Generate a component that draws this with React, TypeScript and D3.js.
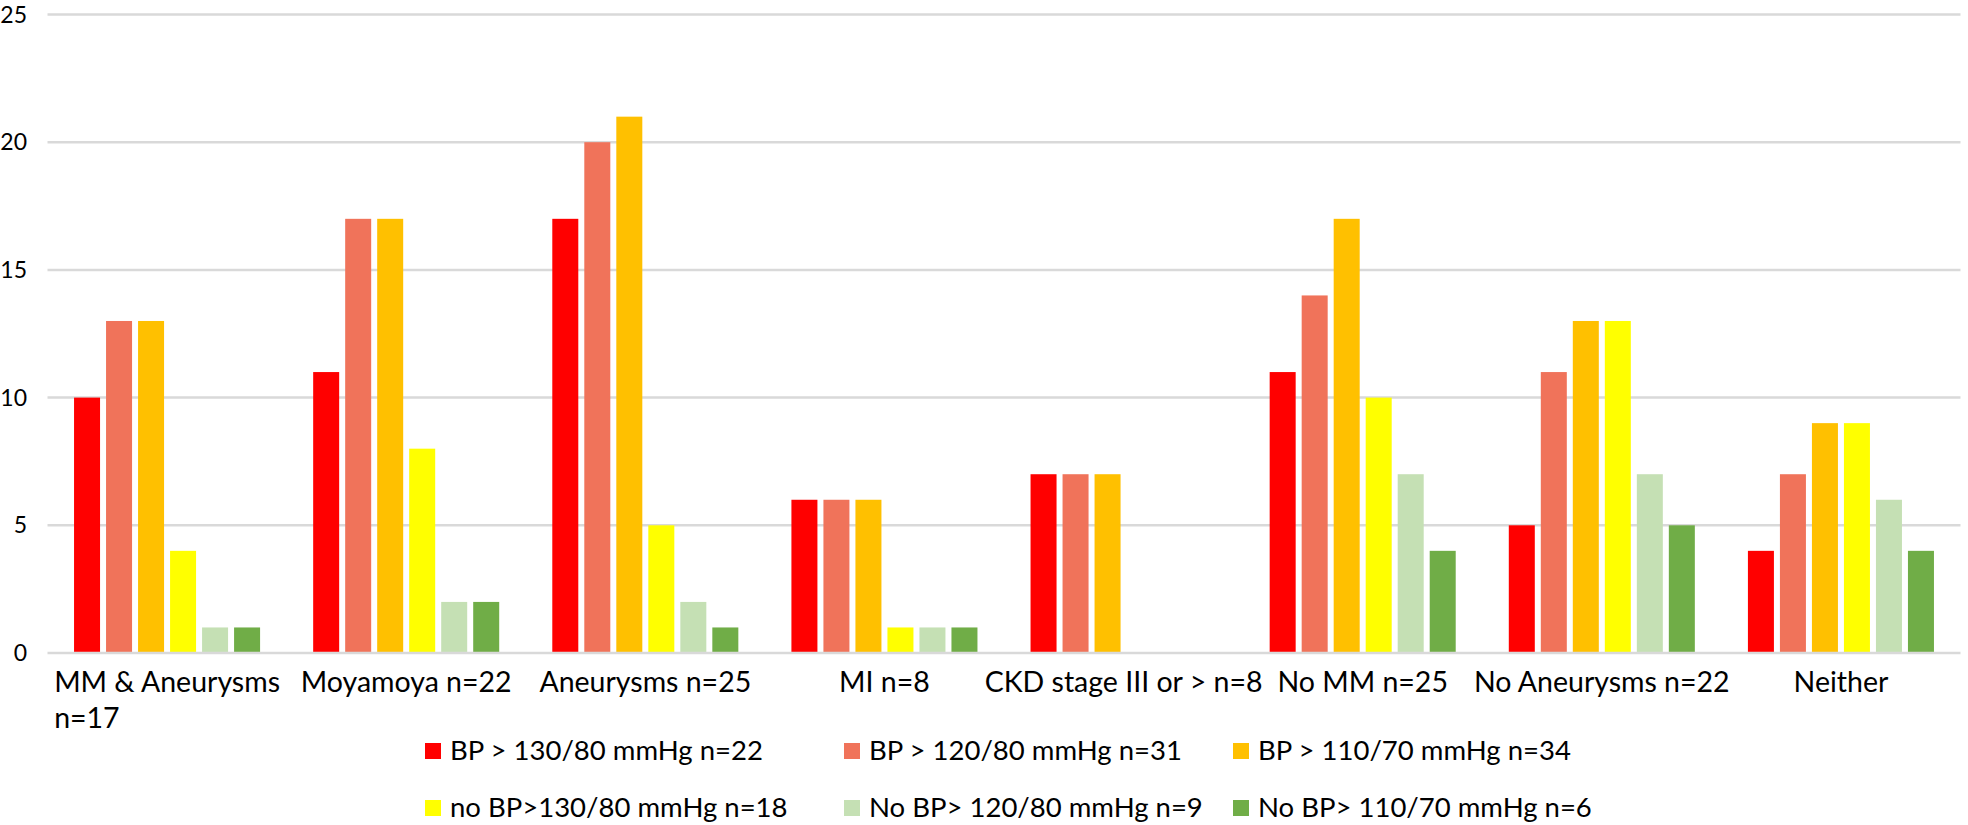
import React, { useEffect, useRef } from 'react';
import * as d3 from 'd3';

// ---- data ----
const categories = [
  'MM & Aneurysms\nn=17',
  'Moyamoya n=22',
  'Aneurysms n=25',
  'MI n=8',
  'CKD stage III or > n=8',
  'No MM n=25',
  'No Aneurysms n=22',
  'Neither',
];

const seriesNames = [
  'BP > 130/80 mmHg n=22',
  'BP > 120/80 mmHg n=31',
  'BP > 110/70 mmHg n=34',
  'no BP>130/80 mmHg n=18',
  'No BP> 120/80 mmHg n=9',
  'No BP> 110/70 mmHg n=6',
];

const seriesColors = ['#FF0000', '#F0735A', '#FFC000', '#FFFF00', '#C5E0B4', '#70AD47'];

const bp130 = [10, 11, 17, 6, 7, 11, 5, 4];
const bp120 = [13, 17, 20, 6, 7, 14, 11, 7];
const bp110 = [13, 17, 21, 6, 7, 17, 13, 9];
const noBp130 = [4, 8, 5, 1, 0, 10, 13, 9];
const noBp120 = [1, 2, 2, 1, 0, 7, 7, 6];
const noBp110 = [1, 2, 1, 1, 0, 4, 5, 4];
const seriesValues = [bp130, bp120, bp110, noBp130, noBp120, noBp110];

const yTicks = [0, 5, 10, 15, 20, 25];

// ---- layout ----
const W = 1968;
const H = 825;
const FONT = "Lato, 'Open Sans', sans-serif";
const PLOT_LEFT = 47.5;
const PLOT_RIGHT = 1960.5;
const Y0 = 653;
const Y25 = 14.5;
const CAT_FONT = 28.5;
const TICK_FONT = 23;
const LEG_FONT = 27.5;
const legendCols = [425, 844, 1233];
const legendRows = [760, 817];

export default function App() {
  const ref = useRef<SVGSVGElement>(null);

  useEffect(() => {
    const svg = d3.select(ref.current);
    svg.selectAll('*').remove();

    const x = d3.scaleBand<string>().domain(categories).range([PLOT_LEFT, PLOT_RIGHT]).padding(0);
    const y = d3.scaleLinear().domain([0, 25]).range([Y0, Y25]);
    const groupW = x.bandwidth() * 0.778;
    const xs = d3
      .scaleBand<number>()
      .domain(d3.range(seriesNames.length))
      .range([0, groupW])
      .paddingInner(0.1875);

    // gridlines (non-zero)
    svg
      .append('g')
      .selectAll('line')
      .data(yTicks.filter((t) => t !== 0))
      .join('line')
      .attr('x1', PLOT_LEFT)
      .attr('x2', PLOT_RIGHT)
      .attr('y1', (d) => y(d))
      .attr('y2', (d) => y(d))
      .attr('stroke', '#D9D9D9')
      .attr('stroke-width', 2.5);

    // y tick labels
    svg
      .append('g')
      .selectAll('text')
      .data(yTicks)
      .join('text')
      .attr('x', 27)
      .attr('y', (d) => y(d))
      .attr('dy', '0.35em')
      .attr('text-anchor', 'end')
      .attr('font-family', FONT)
      .attr('font-size', TICK_FONT)
      .attr('fill', '#000')
      .text((d) => String(d));

    // bars
    seriesValues.forEach((vals, si) => {
      svg
        .append('g')
        .selectAll('rect')
        .data(vals)
        .join('rect')
        .attr('x', (_d, i) => {
          const c = (x(categories[i]) as number) + x.bandwidth() / 2;
          return c - groupW / 2 + (xs(si) as number);
        })
        .attr('width', xs.bandwidth())
        .attr('y', (d) => y(d))
        .attr('height', (d) => Y0 - y(d))
        .attr('fill', seriesColors[si]);
    });

    // zero axis line
    svg
      .append('line')
      .attr('x1', PLOT_LEFT)
      .attr('x2', PLOT_RIGHT)
      .attr('y1', y(0))
      .attr('y2', y(0))
      .attr('stroke', '#D9D9D9')
      .attr('stroke-width', 2.5);

    // category labels
    const catG = svg.append('g');
    categories.forEach((cat) => {
      const lines = cat.split('\n');
      const cx = (x(cat) as number) + x.bandwidth() / 2;
      const t1 = catG
        .append('text')
        .attr('x', cx)
        .attr('y', 692)
        .attr('text-anchor', 'middle')
        .attr('font-family', FONT)
        .attr('font-size', CAT_FONT)
        .attr('fill', '#000')
        .text(lines[0]);
      if (lines.length > 1) {
        const node = t1.node() as SVGTextElement;
        const w = node.getComputedTextLength();
        catG
          .append('text')
          .attr('x', cx - w / 2)
          .attr('y', 728)
          .attr('text-anchor', 'start')
          .attr('font-family', FONT)
          .attr('font-size', CAT_FONT)
          .attr('fill', '#000')
          .text(lines[1]);
      }
    });

    // legend
    const legG = svg.append('g');
    seriesNames.forEach((name, i) => {
      const row = Math.floor(i / 3);
      const col = i % 3;
      const lx = legendCols[col];
      const ly = legendRows[row];
      legG
        .append('rect')
        .attr('x', lx)
        .attr('y', ly - 17)
        .attr('width', 16)
        .attr('height', 16)
        .attr('fill', seriesColors[i]);
      legG
        .append('text')
        .attr('x', lx + 25)
        .attr('y', ly)
        .attr('font-family', FONT)
        .attr('font-size', LEG_FONT)
        .attr('fill', '#000')
        .text(name);
    });
  }, []);

  return (
    <svg
      ref={ref}
      width={W}
      height={H}
      style={{ position: 'absolute', left: 0, top: 0, background: '#fff' }}
    />
  );
}
